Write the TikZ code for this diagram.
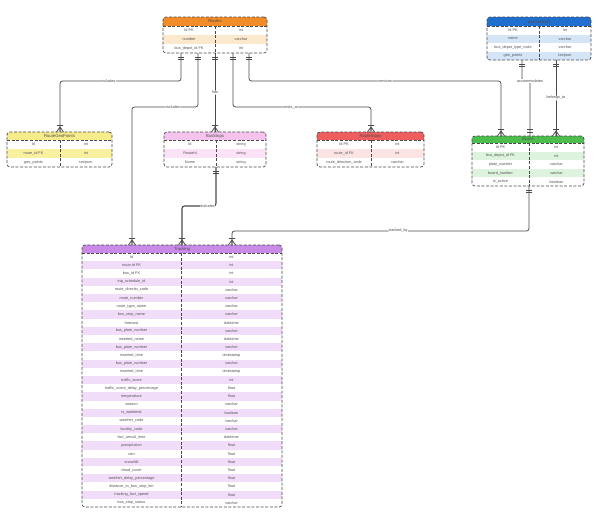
\documentclass[tikz,border=0pt]{standalone}
\usepackage{fontspec}
\setmainfont{Liberation Sans}
\usetikzlibrary{calc}
\definecolor{ink}{HTML}{4A4A4A}
\definecolor{txt}{HTML}{555555}
\definecolor{hOrange}{HTML}{F28C28}\definecolor{tOrange}{HTML}{FCE8CC}
\definecolor{hBlue}{HTML}{1F6FD1}\definecolor{tBlue}{HTML}{D5E5F8}
\definecolor{hYellow}{HTML}{F7EC8B}\definecolor{tYellow}{HTML}{FAF1A0}
\definecolor{hPink}{HTML}{F5C3EE}\definecolor{tPink}{HTML}{FBE2F6}
\definecolor{hRed}{HTML}{EE5E5E}\definecolor{tRed}{HTML}{FDE4E4}
\definecolor{hGreen}{HTML}{4DBE4D}\definecolor{tGreen}{HTML}{DDF3DD}
\definecolor{hPurple}{HTML}{C98AE8}\definecolor{tPurple}{HTML}{F1DDF9}
\tikzset{
  tbl/.style={draw=ink, line width=0.7pt, dash pattern=on 3pt off 1.6pt, rounded corners=3pt, inner sep=0pt, outer sep=0pt},
  sepline/.style={draw=ink, line width=0.6pt, dash pattern=on 3pt off 1.6pt},
  cell/.style={font=\fontsize{3.8}{4}\selectfont, text=txt, inner sep=0pt},
  ttl/.style={font=\fontsize{4.2}{5}\selectfont, text=ink, inner sep=0pt},
  conn/.style={draw=ink, line width=0.75pt, rounded corners=2.5pt},
  lbl/.style={font=\fontsize{3.8}{4}\selectfont, text=ink, fill=white, inner sep=0.6pt},
  mk/.style={draw=ink, line width=0.75pt},
  onedown/.pic={\draw[mk] (-3,4)--(3,4) (-3,6.5)--(3,6.5);},
  oneup/.pic={\draw[mk] (-3,-4)--(3,-4) (-3,-6.5)--(3,-6.5);},
  crowup/.pic={\draw[mk] (-3.5,0)--(0,-5)--(3.5,0) (0,0)--(0,-5) (-3,-6.5)--(3,-6.5);}
}
% rows: #1 L, #2 R, #3 HB, #4 row height, #5 divider, #6 tint, #7 list, #8 name
\newcommand\errows[8]{%
  \foreach \a/\b [count=\i] in {#7} {
    \pgfmathsetmacro\yt{#3+(\i-1)*#4}
    \ifodd\i\else \fill[#6] (#1,\yt) rectangle (#2,\yt+#4); \fi
    \node[cell] (#8-l\i) at ({(#1+#5)/2},\yt+#4/2) {\a};
    \node[cell] (#8-r\i) at ({(#5+#2)/2},\yt+#4/2) {\b};
  }}
% table: #1 name, #2 L, #3 T, #4 R, #5 HB, #6 B, #7 D, #8 colour, #9 title
\newcommand\ertable[9]{%
  \fill[#8, rounded corners=3pt] (#2,#3) rectangle (#4,#5);
  \fill[#8] (#2,#5-3) rectangle (#4,#5);
  \node[tbl, minimum width={#4-#2}, minimum height={#6-#3}, anchor=north west] (#1) at (#2,#3) {};
  \draw[sepline] (#2,#5) -- (#4,#5);
  \draw[sepline] (#7,#5) -- (#7,#6);
  \node[ttl] (#1-title) at ({(#2+#4)/2},{(#3+#5)/2}) {#9};
}
\begin{document}
\begin{tikzpicture}[x=1pt,y=-1pt]
\fill[white] (0,0) rectangle (600,515);
\useasboundingbox (0,0) rectangle (600,515);

% Routes
\errows{163}{267}{26}{9}{215}{tOrange}{Id PK/int, number/varchar, bus\_depot\_id FK/int}{routes}
\ertable{routes}{163}{17}{267}{26}{53}{215}{hOrange}{Routes}
% BusStations
\errows{487}{591}{26}{8.5}{539}{tBlue}{Id PK/int, name/varchar, bus\_depot\_type\_code/varchar, geo\_points/textjson}{stations}
\ertable{stations}{487}{17}{591}{26}{60}{539}{hBlue}{BusStations}
% RouteGeoPoints
\errows{7}{112}{140}{9}{60}{tYellow}{Id/int, route\_id FK/int, geo\_points/textjson}{geo}
\ertable{geo}{7}{132}{112}{140}{167}{60}{hYellow}{RouteGeoPoints}
% BusStops
\errows{164}{266}{140}{9}{216}{tPink}{Id/string, RouteId/string, Name/string}{stops}
\ertable{stops}{164}{132}{266}{140}{167}{216}{hPink}{BusStops}
% RouteStops
\errows{317}{424}{140}{9}{371}{tRed}{Id PK/int, route\_id FK/int, route\_direction\_code/varchar}{rstops}
\ertable{rstops}{317}{132}{424}{140}{167}{371}{hRed}{RouteStops}
% Buses
\errows{472}{584}{143}{8.6}{529}{tGreen}{Id PK/int, bus\_depot\_id FK/int, plate\_number/varchar, board\_number/varchar, is\_active/boolean}{buses}
\ertable{buses}{472}{136}{584}{143}{186}{529}{hGreen}{Buses}
% Tracking
\errows{82}{282}{253}{8.194}{181}{tPurple}{Id/int, route-id FK/int, bus\_id FK/int, trip\_schedule\_id/int, route\_directio\_code/varchar, route\_number/varchar, route\_type\_name/varchar, bus\_stop\_name/varchar, forecast/datetime, bus\_plate\_number/varchar, inserted\_name/datetime, bus\_plate\_number/varchar, inserted\_time/timestamp, bus\_plate\_number/varchar, inserted\_time/timestamp, traffic\_score/int, traffic\_score\_delay\_percentage/float, temperature/float, season/varchar, is\_weekend/boolean, weather\_code/varchar, locality\_code/varchar, fact\_arrival\_time/datetime, precipitation/float, rain/float, snowfall/float, cloud\_cover/float, weather\_delay\_percentage/float, distance\_to\_bus\_stop\_km/float, tracking\_fact\_speed/float, bus\_stop\_status/varchar}{track}
\ertable{track}{82}{245}{282}{253}{507}{181}{hPurple}{Tracking}

% connector end points
\coordinate (r1) at ($(routes.south west)+(18,0)$);
\coordinate (r2) at ($(routes.south west)+(35,0)$);
\coordinate (r3) at ($(routes.south west)+(52,0)$);
\coordinate (r4) at ($(routes.south west)+(70,0)$);
\coordinate (r5) at ($(routes.south west)+(86,0)$);
\coordinate (s1) at ($(stations.south west)+(35,0)$);
\coordinate (s2) at ($(stations.south west)+(69,0)$);
\coordinate (b1) at ($(buses.north west)+(29,0)$);
\coordinate (b2) at ($(buses.north west)+(58,0)$);
\coordinate (b3) at ($(buses.north west)+(84,0)$);
\coordinate (b4) at ($(buses.south west)+(57,0)$);
\coordinate (st1) at ($(stops.south west)+(52,0)$);
\coordinate (t1) at ($(track.north west)+(50,0)$);
\coordinate (t2) at ($(track.north west)+(100,0)$);
\coordinate (t3) at ($(track.north west)+(150,0)$);
\coordinate (g1) at ($(geo.north west)+(53,0)$);
\coordinate (p1) at ($(stops.north west)+(51,0)$);
\coordinate (q1) at ($(rstops.north west)+(54,0)$);

% connectors
\draw[conn] (r1) -- ++(0,28) -| node[lbl, pos=0.3] {includes} (g1);
\draw[conn] (r2) -- ++(0,54) -| node[lbl, pos=0.19] {includes} (t1);
\draw[conn] (r3) -- node[lbl] {has} (p1);
\draw[conn] (r4) -- ++(0,54) -| node[lbl, pos=0.21] {ends\_at} (q1);
\draw[conn] (r5) -- ++(0,28) -| node[lbl, pos=0.27] {services} (b1);
\draw[conn] (s1) -- ++(0,21) -| node[lbl, pos=0.5] {accommodates} (b2);
\draw[conn] (s2) -- node[lbl] {belongs\_to} (b3);
\draw[conn] (b4) -- ++(0,45) -| node[lbl, pos=0.22] {tracked\_by} (t3);
\draw[conn, line width=1.1pt] (st1) -- ++(0,39) -| node[lbl, pos=0.12] {includes} (t2);

% cardinality marks
\foreach \c in {r1,r2,r3,r4,r5,s1,s2,b4,st1} \pic at (\c) {onedown};
\pic at (b2) {oneup};
\foreach \c in {g1,p1,q1,b1,b3,t1,t2,t3} \pic at (\c) {crowup};
\end{tikzpicture}
\end{document}
